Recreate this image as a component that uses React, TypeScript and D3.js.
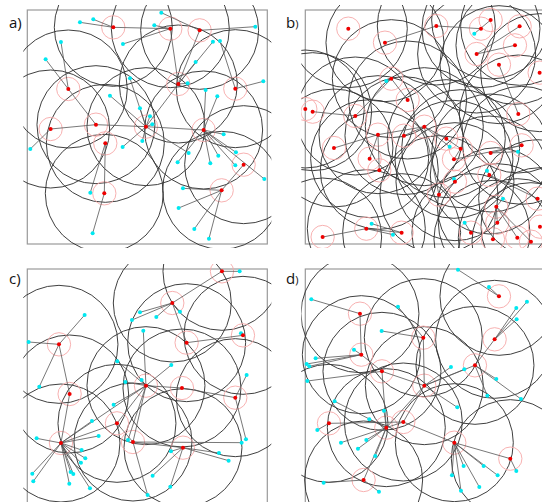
import React from 'react'
import * as d3 from 'd3'

// coordinates are in a 720 x 702 unit box per panel
// red: centres, cyan: [x, y, index of red centre it is assigned to], links: red-red pairs
const redA = [[340, 82], [511, 86], [599, 91], [205, 267], [535, 252], [706, 266], [152, 387], [288, 374], [438, 380], [611, 390], [316, 430], [731, 494], [313, 580], [665, 571]]
const cyanA = [[240, 67, 0], [280, 58, 0], [369, 132, 1], [463, 76, 1], [484, 38, 2], [766, 80, 2], [639, 125, 4], [660, 123, 5], [587, 186, 4], [563, 250, 4], [390, 235, 8], [790, 244, 5], [617, 270, 9], [652, 289, 9], [330, 287, 8], [420, 325, 8], [450, 349, 8], [457, 373, 8], [368, 441, 8], [427, 423, 8], [91, 447, 6], [566, 459, 8], [533, 487, 9], [671, 403, 9], [631, 490, 9], [655, 467, 9], [708, 457, 9], [706, 496, 9], [793, 537, 9], [549, 565, 13], [536, 624, 13], [583, 687, 13], [627, 716, 13], [271, 578, 10], [278, 700, 12], [183, 126, 3], [137, 178, 3]]
const linksA = [[0, 1], [1, 4], [2, 4], [3, 7], [6, 7], [7, 8], [8, 9], [4, 8], [10, 12], [11, 13]]

const redB = [[229, 86], [339, 128], [493, 78], [627, 86], [656, 60], [743, 79], [729, 136], [614, 162], [681, 194], [803, 218], [358, 236], [407, 300], [100, 327], [122, 335], [250, 348], [739, 342], [457, 380], [318, 404], [396, 407], [523, 416], [566, 446], [186, 444], [749, 436], [656, 459], [546, 478], [293, 476], [652, 525], [322, 511], [549, 545], [501, 584], [797, 596], [673, 620], [676, 668], [804, 680], [597, 698], [736, 713], [663, 718], [777, 725], [389, 698], [283, 686], [152, 711]]
const cyanB = [[607, 101, 4], [343, 243, 10], [533, 440, 16], [738, 455, 23], [645, 512, 26], [546, 537, 28], [693, 596, 31], [578, 668, 34], [299, 671, 38], [363, 704, 39]]
const linksB = [[1, 2], [2, 3], [7, 5], [7, 6], [10, 11], [10, 14], [13, 14], [21, 17], [17, 16], [16, 19], [19, 20], [18, 16], [25, 17], [27, 17], [15, 8], [23, 22], [24, 20], [29, 28], [29, 16], [32, 31], [36, 31], [35, 31], [37, 31], [39, 38], [40, 39], [30, 26], [22, 24]]

const redC = [[666, 64], [517, 159], [560, 278], [729, 256], [177, 283], [209, 432], [438, 407], [546, 414], [706, 443], [351, 520], [183, 579], [399, 576], [549, 593]]
const cyanC = [[719, 64, 0], [540, 185, 1], [469, 201, 1], [420, 187, 1], [396, 210, 1], [254, 195, 4], [86, 276, 4], [118, 410, 4], [430, 242, 6], [723, 250, 3], [352, 334, 6], [514, 345, 6], [376, 396, 6], [425, 390, 6], [740, 375, 8], [341, 464, 6], [276, 513, 10], [296, 558, 10], [110, 565, 10], [245, 600, 10], [256, 625, 10], [243, 638, 10], [212, 666, 10], [220, 672, 10], [97, 671, 10], [100, 694, 10], [208, 701, 10], [270, 715, 10], [384, 570, 6], [738, 568, 8], [725, 578, 11], [657, 609, 12], [686, 632, 12], [513, 604, 12], [458, 677, 12], [511, 710, 12], [443, 735, 11]]
const linksC = [[0, 1], [1, 2], [2, 3], [4, 5], [5, 10], [6, 7], [7, 8], [6, 9], [9, 10], [6, 10], [9, 11], [11, 12], [6, 11]]

const redD = [[681, 139], [264, 191], [668, 268], [454, 263], [268, 314], [330, 364], [609, 346], [457, 407], [171, 520], [394, 516], [343, 533], [547, 578], [715, 626], [275, 690]]
const cyanD = [[558, 59, 0], [651, 111, 0], [765, 155, 2], [733, 174, 2], [734, 208, 2], [118, 148, 1], [378, 170, 3], [329, 243, 3], [246, 299, 4], [131, 325, 4], [104, 342, 4], [112, 349, 4], [106, 393, 5], [537, 351, 7], [577, 358, 7], [673, 387, 6], [747, 447, 6], [646, 437, 6], [556, 472, 7], [188, 454, 10], [336, 482, 10], [292, 508, 10], [136, 540, 8], [207, 578, 10], [283, 570, 10], [258, 596, 10], [310, 618, 10], [155, 698, 13], [321, 725, 13], [540, 676, 11], [575, 648, 11], [567, 722, 11], [622, 711, 11], [635, 648, 11], [677, 676, 11], [733, 663, 12]]
const linksD = [[1, 4], [4, 5], [5, 7], [3, 7], [7, 6], [6, 2], [5, 10], [7, 10], [8, 9], [9, 10], [10, 13], [9, 11], [11, 12], [7, 9]]

const labels = ['a)', 'b)', 'c)', 'd)']
const bigRadius = 177
const smallRadius = 35

const panels = [
  { red: redA, cyan: cyanA, links: linksA, ox: 82, oy: 30 },
  { red: redB, cyan: cyanB, links: linksB, ox: 100, oy: 30 },
  { red: redC, cyan: cyanC, links: linksC, ox: 82, oy: 57 },
  { red: redD, cyan: cyanD, links: linksD, ox: 100, oy: 57 }
]

const W = 240
const H = 234

function Panel ({ p, i, left, top }) {
  const x = d3.scaleLinear().domain([p.ox, p.ox + 720]).range([left, left + W])
  const y = d3.scaleLinear().domain([p.oy, p.oy + 702]).range([top, top + H])
  const k = x(bigRadius) - x(0)
  const ks = x(smallRadius) - x(0)
  const clipId = 'clip' + i
  return (
    <g>
      <defs>
        <clipPath id={clipId}>
          <rect x={left - 4} y={top - 5} width={W + 8} height={H + 9} />
        </clipPath>
      </defs>
      <rect x={left} y={top} width={W} height={H} fill="none" stroke="#9a9a9a" strokeWidth={1.2} />
      <g clipPath={`url(#${clipId})`}>
        {p.red.map((d, j) => (
          <circle key={'b' + j} cx={x(d[0])} cy={y(d[1])} r={k} fill="none" stroke="#363636" strokeWidth={0.95} />
        ))}
        {p.red.map((d, j) => (
          <circle key={'s' + j} cx={x(d[0])} cy={y(d[1])} r={ks} fill="none" stroke="#f6a8a8" strokeWidth={0.9} />
        ))}
        {p.links.map((l, j) => (
          <line key={'l' + j} x1={x(p.red[l[0]][0])} y1={y(p.red[l[0]][1])} x2={x(p.red[l[1]][0])} y2={y(p.red[l[1]][1])} stroke="#555" strokeWidth={0.8} />
        ))}
        {p.cyan.map((d, j) => (
          <line key={'c' + j} x1={x(d[0])} y1={y(d[1])} x2={x(p.red[d[2]][0])} y2={y(p.red[d[2]][1])} stroke="#555" strokeWidth={0.8} />
        ))}
        {p.cyan.map((d, j) => (
          <circle key={'cp' + j} cx={x(d[0])} cy={y(d[1])} r={2} fill="#00e8f0" />
        ))}
        {p.red.map((d, j) => (
          <circle key={'rp' + j} cx={x(d[0])} cy={y(d[1])} r={2} fill="#ee0000" />
        ))}
      </g>
    </g>
  )
}

export default function App () {
  const pos = [[27.3, 10], [305.3, 10], [27.3, 269], [305.3, 269]]
  const labelPos = [[9, 28], [286, 28], [9, 284], [286, 284]]
  return (
    <svg width={542} height={502} style={{ position: 'absolute', left: 0, top: 0, background: '#fff' }}>
      {panels.map((p, i) => (
        <Panel key={i} p={p} i={i} left={pos[i][0]} top={pos[i][1]} />
      ))}
      {labels.map((t, i) => (
        <text key={t} x={labelPos[i][0]} y={labelPos[i][1]} fontFamily="Open Sans, sans-serif" fontSize={15} fill="#111">
          {t[0]}<tspan fontSize={i % 2 === 1 ? 11 : 15}>{t[1]}</tspan>
        </text>
      ))}
    </svg>
  )
}
